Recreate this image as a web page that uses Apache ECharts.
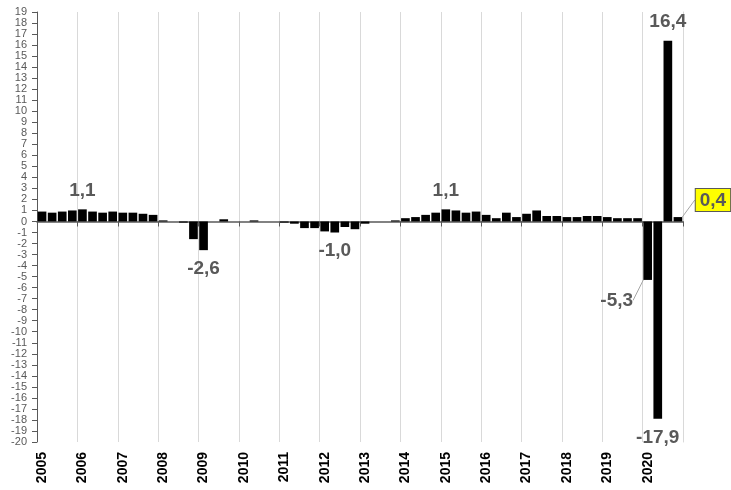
<!DOCTYPE html>
<html><head><meta charset="utf-8">
<script src="https://cdn.jsdelivr.net/npm/echarts@6/dist/echarts.min.js"></script>
<style>html,body{margin:0;padding:0;background:#fff}#c{width:731px;height:490px}</style>
</head><body><div id="c"></div>
<script>
const years = [2005,2006,2007,2008,2009,2010,2011,2012,2013,2014,2015,2016,2017,2018,2019,2020];
const quarters = ['Q1','Q2','Q3','Q4'];
const categories = years.flatMap(y => quarters.map(q => y + ' ' + q));
const values = [
  0.9, 0.8, 0.9, 1.0,
  1.1, 0.9, 0.8, 0.9,
  0.8, 0.8, 0.7, 0.6,
  0.1, 0.0, -0.1, -1.6,
  -2.6, 0.0, 0.2, 0.0,
  0.0, 0.1, 0.0, 0.0,
  -0.1, -0.2, -0.6, -0.6,
  -0.9, -1.0, -0.5, -0.7,
  -0.2, 0.0, 0.0, 0.1,
  0.3, 0.4, 0.6, 0.8,
  1.1, 1.0, 0.8, 0.9,
  0.6, 0.3, 0.8, 0.4,
  0.7, 1.0, 0.5, 0.5,
  0.4, 0.4, 0.5, 0.5,
  0.4, 0.3, 0.3, 0.3,
  -5.3, -17.9, 16.4, 0.4
];
const labeledIdx = [4, 16, 29, 40, 60, 61, 62, 63];
const leaderIdx = [60, 63];
const highlightIdx = 63;
const yMin = -20, yMax = 19, yStep = 1;

const FONT = 'Liberation Sans';
const fmt = v => v.toFixed(1).replace('.', ',');
const labelText = {color: '#595959', fontWeight: 'bold', fontSize: 19, fontFamily: FONT};

const data = values.map((v, i) => {
  if (!labeledIdx.includes(i)) return v;
  const lab = Object.assign({
    show: true,
    position: v >= 0 ? 'top' : 'bottom',
    distance: 9,
    formatter: p => fmt(p.value)
  }, labelText);
  if (i === highlightIdx) {
    Object.assign(lab, {backgroundColor: '#ffff00', borderColor: '#595959', borderWidth: 1, padding: [2, 4, 1, 4]});
  }
  const item = {value: v, label: lab};
  item.labelLine = {show: leaderIdx.includes(i), lineStyle: {color: '#a6a6a6', width: 1}};
  return item;
});

const chart = echarts.init(document.getElementById('c'), null, {renderer: 'canvas'});
chart.setOption({
  animation: false,
  backgroundColor: '#fff',
  grid: {left: 37, right: 48, top: 12, bottom: 48},
  xAxis: [{
    type: 'category', data: categories, position: 'bottom',
    axisLine: {show: false, onZero: false},
    axisTick: {show: false},
    axisLabel: {interval: 3, rotate: 90, margin: 10, formatter: v => v.slice(0, 4),
      color: '#000', fontWeight: 'bold', fontSize: 14, fontFamily: FONT},
    splitLine: {show: true, interval: 3, lineStyle: {color: '#d9d9d9', width: 1}}
  }, {
    type: 'category', data: categories, position: 'top',
    axisLine: {show: true, onZero: true, lineStyle: {color: '#595959', width: 1.5}},
    axisTick: {show: true, interval: 3, inside: true, length: 5, lineStyle: {color: '#595959'}},
    axisLabel: {show: false},
    splitLine: {show: false}
  }],
  yAxis: [{
    type: 'value', min: yMin, max: yMax, interval: yStep, position: 'left',
    axisLine: {show: true, lineStyle: {color: '#595959'}},
    axisTick: {show: true, length: 5, lineStyle: {color: '#595959'}},
    axisLabel: {color: '#595959', fontSize: 11, fontFamily: FONT, margin: 10},
    splitLine: {show: false}
  }, {
    type: 'value', min: yMin, max: yMax, interval: yStep, position: 'right',
    axisLine: {show: true, onZero: false, lineStyle: {color: '#d9d9d9'}},
    axisTick: {show: false}, axisLabel: {show: false}, splitLine: {show: false}
  }],
  series: [{
    type: 'bar', xAxisIndex: 0, yAxisIndex: 0, data: data,
    barCategoryGap: '14%',
    itemStyle: {color: '#000'},
    label: Object.assign({show: false}, labelText),
    labelLine: {show: false, lineStyle: {color: '#a6a6a6', width: 1}},
    labelLayout: p => {
      if (p.dataIndex === 60) return {dx: -31, dy: 2};
      if (p.dataIndex === highlightIdx) return {dx: 35, dy: 3};
      return {};
    }
  }]
});
</script></body></html>
